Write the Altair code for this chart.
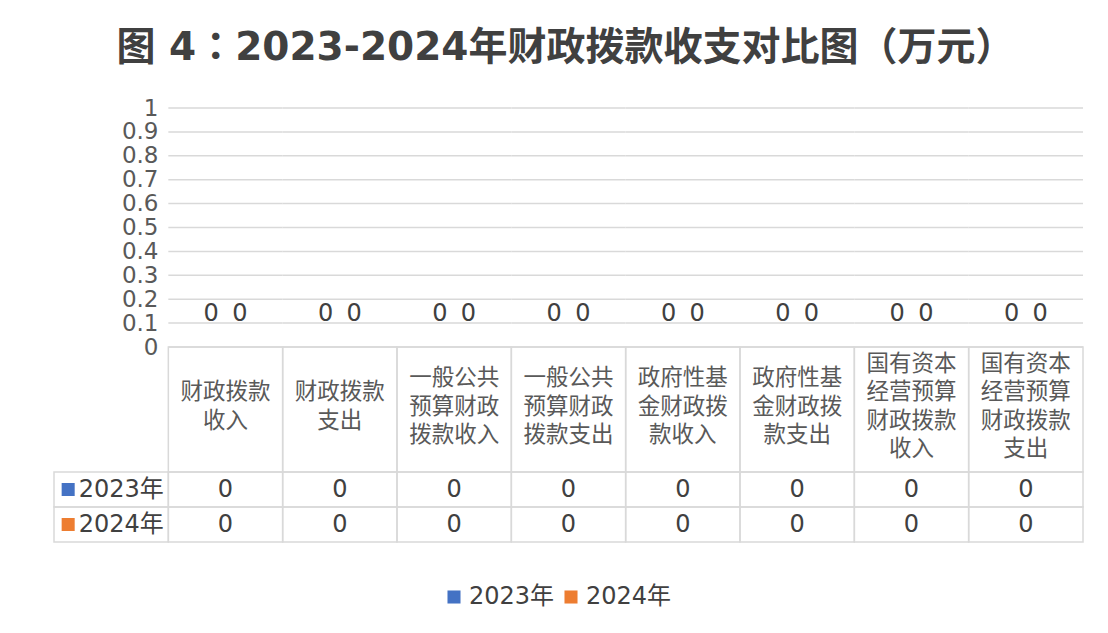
import altair as alt
import pandas as pd

TITLE = "图 4：2023-2024年财政拨款收支对比图（万元）"
categories = [
    "财政拨款收入", "财政拨款支出",
    "一般公共预算财政拨款收入", "一般公共预算财政拨款支出",
    "政府性基金财政拨款收入", "政府性基金财政拨款支出",
    "国有资本经营预算财政拨款收入", "国有资本经营预算财政拨款支出",
]
header_lines = [
    ["财政拨款", "收入"], ["财政拨款", "支出"],
    ["一般公共", "预算财政", "拨款收入"], ["一般公共", "预算财政", "拨款支出"],
    ["政府性基", "金财政拨", "款收入"], ["政府性基", "金财政拨", "款支出"],
    ["国有资本", "经营预算", "财政拨款", "收入"], ["国有资本", "经营预算", "财政拨款", "支出"],
]
years = ["2023年", "2024年"]
values_2023 = [0, 0, 0, 0, 0, 0, 0, 0]
values_2024 = [0, 0, 0, 0, 0, 0, 0, 0]
y_ticks = [0, 0.1, 0.2, 0.3, 0.4, 0.5, 0.6, 0.7, 0.8, 0.9, 1]
year_colors = ["#4472C4", "#ED7D31"]
LABEL_COL = "_label_"

# ---- layout / style constants ----
GRID = "#d9d9d9"
TXT = "#404040"
TXT2 = "#595959"
NUMFONT = "DejaVu Sans, Noto Sans CJK SC"
CJK = "Noto Sans CJK SC"
W = 1029
H_TOP = 239
H_HEAD = 125
H_ROWS = 70
LINE_H = 28.5

# ---- tables built from the arrays ----
bars_df = pd.DataFrame(
    [{"cat": c, "year": years[0], "value": v} for c, v in zip(categories, values_2023)]
    + [{"cat": c, "year": years[1], "value": v} for c, v in zip(categories, values_2024)]
)
grid_df = pd.DataFrame([{"cat": c, "tick": t} for c in categories for t in y_ticks])
header_df = pd.DataFrame(
    {"cat": categories, "lines": header_lines, "n": [len(l) for l in header_lines], "row": "h"}
)
cols = [LABEL_COL] + categories
cells_df = pd.DataFrame([{"col": c, "year": y} for y in years for c in cols])
rowlab_df = pd.DataFrame({"col": LABEL_COL, "year": years})

x_scale = alt.Scale(domain=cols, paddingInner=0, paddingOuter=0)
xoff_scale = alt.Scale(domain=years, paddingInner=0, paddingOuter=1)
color_scale = alt.Scale(domain=years, range=year_colors)
y_scale = alt.Scale(domain=[0, 1], nice=False, zero=True)

y_axis = alt.Axis(
    values=y_ticks, grid=False, domain=False, ticks=False, tickSize=0,
    labelFontSize=23, labelColor=TXT2, labelFont="DejaVu Sans", offset=-109,
    labelPadding=5, title=None, labelOverlap=False, labelFlush=False, format="~g",
)

grid = alt.Chart(grid_df).mark_rule(color=GRID, strokeWidth=1.5).encode(
    x=alt.X("cat:N", scale=x_scale, axis=None, bandPosition=0),
    x2=alt.X2("cat:N", bandPosition=1),
    y=alt.Y("tick:Q", scale=y_scale, axis=y_axis),
)

bars = alt.Chart(bars_df).mark_bar().encode(
    x=alt.X("cat:N", scale=x_scale, axis=None),
    xOffset=alt.XOffset("year:N", scale=xoff_scale),
    y=alt.Y("value:Q", scale=y_scale, axis=y_axis),
    color=alt.Color(
        "year:N", scale=color_scale,
        legend=alt.Legend(
            orient="none", legendX=388, legendY=477, direction="horizontal",
            title=None, symbolType="square", symbolSize=170, symbolStrokeWidth=0,
            labelFontSize=24, labelColor=TXT, labelFont=NUMFONT, columnPadding=4,
            labelOffset=3,
        ),
    ),
)

bar_labels = alt.Chart(bars_df).mark_text(
    dy=-33, fontSize=24, color=TXT, font="DejaVu Sans", baseline="middle"
).encode(
    x=alt.X("cat:N", scale=x_scale, axis=None),
    xOffset=alt.XOffset("year:N", scale=xoff_scale),
    y=alt.Y("value:Q", scale=y_scale, axis=y_axis),
    text=alt.Text("value:Q"),
)

top = alt.layer(grid, bars, bar_labels).properties(width=W, height=H_TOP)

# ---- header row of the data table ----
hy = alt.Y("row:N", scale=alt.Scale(paddingInner=0, paddingOuter=0), axis=None)
header_cells = alt.Chart(header_df).mark_rect(
    fill="white", fillOpacity=0, stroke=GRID, strokeWidth=1.5
).encode(x=alt.X("cat:N", scale=x_scale, axis=None), y=hy)

header_layers = [header_cells]
for n in sorted(set(header_df["n"])):
    header_layers.append(
        alt.Chart(header_df[header_df["n"] == n]).mark_text(
            fontSize=22.5, lineHeight=LINE_H, color=TXT2, font=CJK,
            baseline="middle", dy=-(n - 1) * LINE_H / 2 - 3,
        ).encode(
            x=alt.X("cat:N", scale=x_scale, axis=None),
            y=hy,
            text=alt.Text("lines:N"),
        )
    )
header = alt.layer(*header_layers).properties(width=W, height=H_HEAD)

# ---- value rows of the data table ----
ry = alt.Y("year:N", scale=alt.Scale(domain=years, paddingInner=0, paddingOuter=0), axis=None)
value_cells = alt.Chart(cells_df).mark_rect(
    fill="white", fillOpacity=0, stroke=GRID, strokeWidth=1.5
).encode(x=alt.X("col:N", scale=x_scale, axis=None), y=ry)
value_text = alt.Chart(bars_df).mark_text(
    fontSize=24, color=TXT, font="DejaVu Sans", baseline="middle"
).encode(x=alt.X("cat:N", scale=x_scale, axis=None), y=ry, text=alt.Text("value:Q"))
row_squares = alt.Chart(rowlab_df).mark_square(size=170, opacity=1, xOffset=-43).encode(
    x=alt.X("col:N", scale=x_scale, axis=None), y=ry,
    color=alt.Color("year:N", scale=color_scale, legend=None),
)
row_text = alt.Chart(rowlab_df).mark_text(
    fontSize=24, color=TXT, font=NUMFONT, baseline="middle", dx=10
).encode(x=alt.X("col:N", scale=x_scale, axis=None), y=ry, text=alt.Text("year:N"))
values = alt.layer(value_cells, value_text, row_squares, row_text).properties(width=W, height=H_ROWS)

chart = (
    alt.vconcat(top, header, values, spacing=0, bounds="flush")
    .resolve_scale(y="independent", color="shared")
    .properties(
        title=alt.Title(
            TITLE, fontSize=39, font="DejaVu Sans, Noto Sans CJK JP", fontWeight="bold",
            color=TXT, anchor="middle", dx=-3, offset=29,
        ),
        padding={"left": 45, "top": 21, "right": 5, "bottom": 5},
        background="white",
    )
    .configure_view(strokeWidth=0)
)

chart.save("out.html", embed_options={"renderer": "svg", "actions": False})
